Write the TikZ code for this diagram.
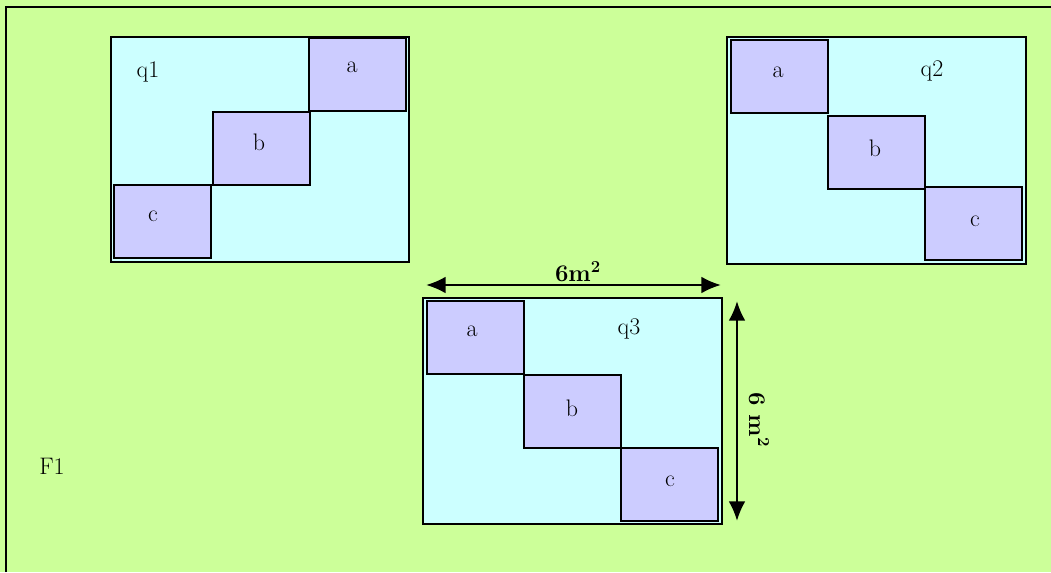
\documentclass[tikz,border=0pt]{standalone}
\usepackage{tikz}
\usetikzlibrary{arrows.meta}

\definecolor{fieldgreen}{RGB}{204,255,153}
\definecolor{quadcyan}{RGB}{204,255,255}
\definecolor{celllilac}{RGB}{204,204,255}

\tikzset{
  quad/.style={draw=black,line width=1.3pt,fill=quadcyan},
  cell/.style={draw=black,line width=1.2pt,fill=celllilac},
  lbl/.style={font=\fontsize{17}{20}\selectfont},
  dimline/.style={line width=1.7pt,{Latex[length=14pt,width=12pt]}-{Latex[length=14pt,width=12pt]}}
}

\begin{document}
\begin{tikzpicture}[x=0.025cm,y=-0.025cm]
\useasboundingbox (0,0) rectangle (1051,572);
\fill[fieldgreen] (0,0) rectangle (1051,572);
\draw[line width=1.5pt] (6,572) -- (6,7) -- (1051,7);

% field label
\node[lbl] (f1) at (52,466) {F1};

% quadrat q1
\draw[quad] (111,37) rectangle (409,262);
\foreach \x/\y in {309/38,213/112,114/185}
	\draw[cell] (\x,\y) rectangle (\x+97,\y+73);
\node[lbl] (q1) at (148,72) {q1};
\node[lbl] (q1a) at (352,67) {a};
\node[lbl] (q1b) at (259,142) {b};
\node[lbl] (q1c) at (153,216) {c};

% quadrat q2
\draw[quad] (727,37) rectangle (1026,264);
\foreach \x/\y in {731/40,828/116,925/187}
	\draw[cell] (\x,\y) rectangle (\x+97,\y+73);
\node[lbl] (q2) at (932,71) {q2};
\node[lbl] (q2a) at (778,72) {a};
\node[lbl] (q2b) at (875,148) {b};
\node[lbl] (q2c) at (975,221) {c};

% quadrat q3
\draw[quad] (423,298) rectangle (722,524);
\foreach \x/\y in {427/301,524/375,621/448}
	\draw[cell] (\x,\y) rectangle (\x+97,\y+73);
\node[lbl] (q3) at (629,329) {q3};
\node[lbl] (q3a) at (472,331) {a};
\node[lbl] (q3b) at (572,408) {b};
\node[lbl] (q3c) at (670,481) {c};

% dimensions
\coordinate (wl) at (426,285);
\coordinate (wr) at (721,285);
\coordinate (ht) at (737,301);
\coordinate (hb) at (737,521);
\draw[dimline] (wl) -- (wr);
\draw[dimline] (ht) -- (hb);
\node[lbl,font=\fontsize{17}{20}\selectfont\bfseries] (wlab) at (578,272) {6m\textsuperscript{2}};
\node[lbl,font=\fontsize{17}{20}\selectfont\bfseries,rotate=-90] (hlab) at (759,420) {6 m\textsuperscript{2}};
\end{tikzpicture}
\end{document}
